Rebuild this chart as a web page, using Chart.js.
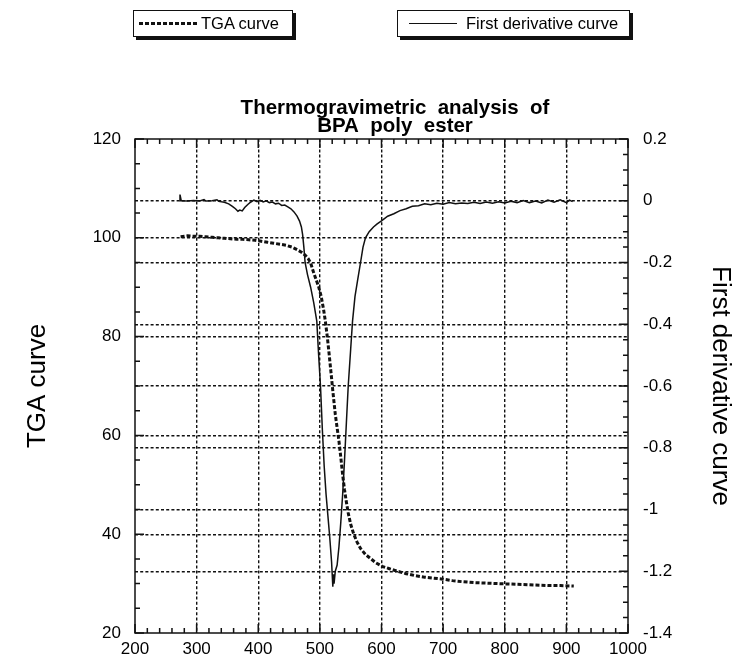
<!DOCTYPE html>
<html>
<head>
<meta charset="utf-8">
<title>Thermogravimetric analysis of BPA poly ester</title>
<script src="https://cdn.jsdelivr.net/npm/chart.js@4.4.1/dist/chart.umd.min.js"></script>
<style>
  html, body { margin: 0; padding: 0; background: #fff; }
  #wrap { position: relative; width: 739px; height: 661px; overflow: hidden; }
  #wrap canvas { position: absolute; left: 0; top: 0; }
  .key {
    position: absolute; top: 10px; height: 27px; box-sizing: border-box;
    border: 1.5px solid #111; box-shadow: 3px 3px 0 #111; background: #fff;
    display: flex; align-items: center;
    font: 16.5px "Liberation Sans", Arial, Helvetica, sans-serif; color: #000; white-space: nowrap;
  }
  .key .dash { display: inline-block; height: 3px;
    background: repeating-linear-gradient(90deg, #111 0 4px, transparent 4px 6px); }
  .key .solid { display: inline-block; height: 1.5px; background: #111; }
</style>
</head>
<body>
<div id="wrap">
  <canvas id="tga" width="739" height="661"></canvas>
</div>
<script>
// Temperature axis and the two measured curves
const seriesNames = ['TGA curve', 'First derivative curve'];
const titleLines = ['Thermogravimetric  analysis  of', 'BPA  poly  ester'];

const tempTicks = [200, 300, 400, 500, 600, 700, 800, 900, 1000];
const tempTickLabels = ['200', '300', '400', '500', '600', '700', '800', '900', '1000'];
const tgaTicks = [20, 40, 60, 80, 100, 120];
const tgaTickLabels = ['20', '40', '60', '80', '100', '120'];
const dtgTicks = [-1.4, -1.2, -1, -0.8, -0.6, -0.4, -0.2, 0, 0.2];
const dtgTickLabels = ['-1.4', '-1.2', '-1', '-0.8', '-0.6', '-0.4', '-0.2', '0', '0.2'];

// TGA curve: weight (%) against temperature
const tgaTemp = [274, 285, 295, 305, 315, 325, 335, 345, 355, 365, 375, 385, 395, 405, 415, 425, 435, 445,
  455, 463, 470, 476, 481, 485, 490, 494, 498, 502, 506, 509, 512, 515, 518, 521, 525, 528, 531, 534,
  537, 540, 543, 546, 550, 555, 560, 566, 574, 582, 591, 601, 613, 626, 640, 655, 670, 685, 700, 715,
  730, 750, 770, 790, 810, 830, 850, 870, 890, 912];
const tgaValue = [100.2, 100.4, 100.3, 100.3, 100.2, 100.1, 100.0, 99.9, 99.8, 99.7, 99.7, 99.6, 99.5,
  99.3, 99.1, 98.9, 98.7, 98.5, 98.1, 97.6, 97.1, 96.5, 95.8, 94.9, 92.9, 91.5, 90.1, 88.2, 85.5, 83.0,
  80.0, 76.5, 72.8, 69.0, 64.3, 61.5, 58.8, 55.5, 52.0, 49.0, 46.5, 44.3, 42.0, 40.0, 38.5, 37.1, 35.9,
  35.1, 34.2, 33.5, 33.0, 32.5, 32.0, 31.6, 31.3, 31.1, 30.9, 30.6, 30.4, 30.2, 30.1, 30.0, 29.9, 29.8,
  29.7, 29.6, 29.6, 29.5];

// First derivative curve against temperature
const dtgTemp = [272, 273, 275, 285, 295, 305, 312, 315, 325, 333, 336, 345, 352, 358, 363, 367, 370, 374,
  378, 383, 388, 393, 398, 403, 408, 413, 418, 423, 428, 433, 438, 443, 448, 453, 458, 463, 467, 470,
  472, 474, 476, 480, 485, 490, 495, 498, 501, 504, 507, 510, 513, 516, 519, 521, 522, 523, 525, 528,
  531, 534, 537, 540, 543, 546, 550, 553, 557, 561, 566, 570, 574, 580, 587, 593, 600, 610, 620, 630,
  640, 650, 660, 670, 680, 690, 700, 710, 720, 730, 740, 750, 760, 770, 780, 790, 800, 810, 820, 830,
  840, 850, 860, 870, 880, 890, 900, 905, 910];
const dtgValue = [0.0, 0.02, 0.0, -0.001, 0.001, -0.001, 0.004, -0.001, 0.0, 0.003, -0.002, -0.005,
  -0.01, -0.018, -0.026, -0.034, -0.03, -0.033, -0.022, -0.012, -0.004, 0.002, -0.003, 0.001, -0.004,
  0.0, -0.006, -0.004, -0.01, -0.008, -0.015, -0.014, -0.02, -0.026, -0.036, -0.05, -0.066, -0.085,
  -0.11, -0.15, -0.2, -0.24, -0.28, -0.33, -0.39, -0.5, -0.6, -0.74, -0.86, -0.95, -1.02, -1.09, -1.17,
  -1.25, -1.21, -1.24, -1.2, -1.18, -1.12, -1.04, -0.95, -0.84, -0.72, -0.6, -0.48, -0.39, -0.31, -0.26,
  -0.2, -0.15, -0.12, -0.1, -0.085, -0.075, -0.065, -0.05, -0.042, -0.032, -0.026, -0.018, -0.016,
  -0.01, -0.013, -0.008, -0.011, -0.006, -0.01, -0.007, -0.009, -0.005, -0.009, -0.004, -0.008, -0.003,
  -0.007, -0.002, -0.006, 0.001, -0.006, -0.001, -0.007, 0.002, -0.005, 0.003, -0.006, 0.002, -0.003];

const FONT = '"Liberation Sans", Arial, Helvetica, sans-serif';
Chart.defaults.font.family = FONT;
Chart.defaults.color = '#000';

const ink = '#111';
const gridDash = [3, 2.2];

// Label lookup for a tick value from its paired label list
const labelFor = (ticks, labels) => (v) => labels[ticks.findIndex((t) => Math.abs(t - v) < 1e-6)];

// Frame around the plot area with inward major/minor tick marks on all four sides
const frameTicks = {
  id: 'frameTicks',
  afterDraw(chart) {
    const { ctx, chartArea: a, scales } = chart;
    const x = scales.x, yl = scales.y, yr = scales.y2;
    ctx.save();
    ctx.strokeStyle = ink;
    ctx.lineWidth = 1.5;
    ctx.setLineDash([]);
    ctx.beginPath();
    for (let v = 200; v <= 1000; v += 20) {
      const px = x.getPixelForValue(v);
      const len = v % 100 === 0 ? 9 : 5;
      ctx.moveTo(px, a.bottom); ctx.lineTo(px, a.bottom - len);
      ctx.moveTo(px, a.top); ctx.lineTo(px, a.top + len);
    }
    for (let v = 20; v <= 120; v += 5) {
      const py = yl.getPixelForValue(v);
      const len = v % 20 === 0 ? 9 : 5;
      ctx.moveTo(a.left, py); ctx.lineTo(a.left + len, py);
    }
    for (let k = 0; k <= 32; k++) {
      const py = yr.getPixelForValue(-1.4 + k * 0.05);
      const len = k % 4 === 0 ? 9 : 5;
      ctx.moveTo(a.right, py); ctx.lineTo(a.right - len, py);
    }
    ctx.stroke();
    ctx.strokeRect(a.left, a.top, a.right - a.left, a.bottom - a.top);
    ctx.restore();
  }
};

const gridStyle = (edges) => ({
  drawTicks: false,
  color: ink,
  lineWidth: (c) => (c.tick && edges.includes(c.tick.value) ? 0 : 1.4)
});

const chart = new Chart(document.getElementById('tga'), {
  type: 'line',
  data: {
    datasets: [
      {
        label: seriesNames[0],
        data: tgaTemp.map((t, i) => ({ x: t, y: tgaValue[i] })),
        yAxisID: 'y',
        borderColor: ink,
        borderWidth: 3,
        borderDash: [4, 2],
        pointRadius: 0,
        tension: 0,
        fill: false
      },
      {
        label: seriesNames[1],
        data: dtgTemp.map((t, i) => ({ x: t, y: dtgValue[i] })),
        yAxisID: 'y2',
        borderColor: ink,
        borderWidth: 1.5,
        pointRadius: 0,
        tension: 0,
        fill: false
      }
    ]
  },
  options: {
    responsive: false,
    animation: false,
    devicePixelRatio: 1,
    layout: { padding: { left: 51, right: 0, top: 0, bottom: 0 } },
    plugins: {
      legend: { display: false },
      tooltip: { enabled: false },
      title: {
        display: true,
        text: titleLines,
        color: '#000',
        font: { size: 20.5, weight: 'bold', lineHeight: '18px' },
        padding: { top: 99, bottom: 4 }
      }
    },
    scales: {
      x: {
        type: 'linear',
        position: 'bottom',
        min: 200, max: 1000,
        afterBuildTicks: (s) => { s.ticks = tempTicks.map((v) => ({ value: v })); },
        afterFit: (s) => { s.height = 28; },
        ticks: {
          font: { size: 17 }, color: '#000', padding: 6, maxRotation: 0, autoSkip: false,
          callback: labelFor(tempTicks, tempTickLabels)
        },
        grid: gridStyle([200, 1000]),
        border: { display: false, dash: gridDash }
      },
      y: {
        position: 'left',
        min: 20, max: 120,
        afterBuildTicks: (s) => { s.ticks = tgaTicks.map((v) => ({ value: v })); },
        afterFit: (s) => { s.width = 84; },
        ticks: { font: { size: 17 }, color: '#000', padding: 14, callback: labelFor(tgaTicks, tgaTickLabels) },
        title: {
          display: true, text: seriesNames[0], color: '#000',
          font: { size: 26, lineHeight: 1.2 }, padding: { top: -28.6, bottom: 0 }
        },
        grid: gridStyle([20, 120]),
        border: { display: false, dash: gridDash }
      },
      y2: {
        position: 'right',
        min: -1.4, max: 0.2,
        afterBuildTicks: (s) => { s.ticks = dtgTicks.map((v) => ({ value: v })); },
        afterFit: (s) => { s.width = 111; },
        ticks: { font: { size: 17 }, color: '#000', padding: 15, callback: labelFor(dtgTicks, dtgTickLabels) },
        title: {
          display: true, text: seriesNames[1], color: '#000',
          font: { size: 26, lineHeight: 1.2 }, padding: { top: 3.4, bottom: 0 }
        },
        grid: gridStyle([-1.4, 0.2]),
        border: { display: false, dash: gridDash }
      }
    }
  },
  plugins: [frameTicks]
});

// Boxed keys above the plot, one per dataset
const keyLayout = [
  { left: 133, width: 160, swatch: 'dash', lead: 5, len: 58, gap: 4 },
  { left: 397, width: 233, swatch: 'solid', lead: 11, len: 48, gap: 9 }
];
chart.data.datasets.forEach((ds, i) => {
  const k = keyLayout[i];
  const box = document.createElement('div');
  box.className = 'key';
  box.style.left = k.left + 'px';
  box.style.width = k.width + 'px';
  const sw = document.createElement('span');
  sw.className = k.swatch;
  sw.style.width = k.len + 'px';
  sw.style.marginLeft = k.lead + 'px';
  sw.style.marginRight = k.gap + 'px';
  const label = document.createElement('span');
  label.textContent = ds.label;
  box.appendChild(sw);
  box.appendChild(label);
  document.getElementById('wrap').appendChild(box);
});
</script>
</body>
</html>
